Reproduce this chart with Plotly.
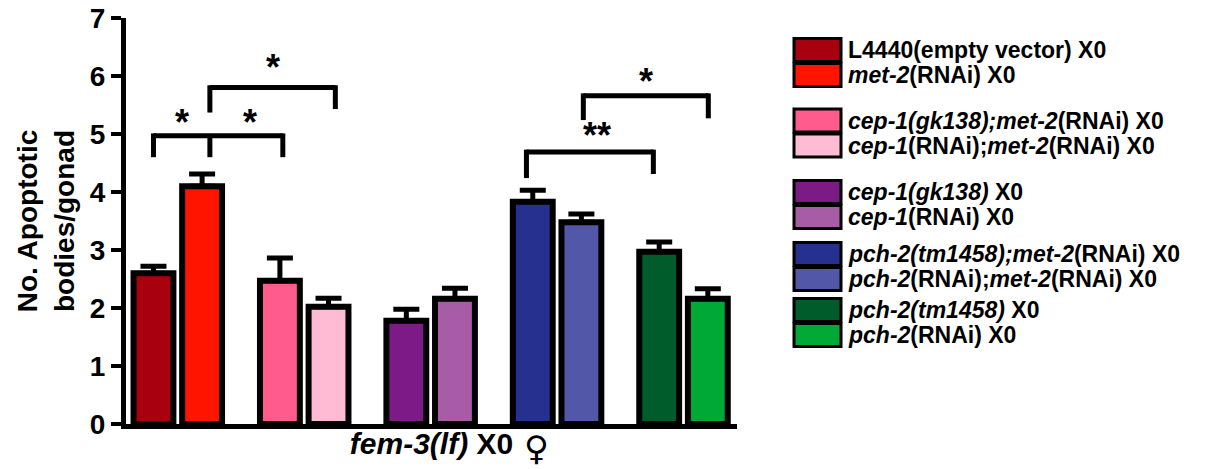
import plotly.graph_objects as go

# ---------------- data ----------------
labels = [
    "L4440(empty vector) X0",
    "<i>met-2</i>(RNAi) X0",
    "<i>cep-1(gk138);met-2</i>(RNAi) X0",
    "<i>cep-1</i>(RNAi);<i>met-2</i>(RNAi) X0",
    "<i>cep-1(gk138)</i> X0",
    "<i>cep-1</i>(RNAi) X0",
    "<i>pch-2(tm1458);met-2</i>(RNAi) X0",
    "<i>pch-2</i>(RNAi);<i>met-2</i>(RNAi) X0",
    "<i>pch-2(tm1458)</i> X0",
    "<i>pch-2</i>(RNAi) X0",
]
means = [2.60, 4.10, 2.47, 2.02, 1.78, 2.16, 3.83, 3.48, 2.97, 2.16]
sems = [0.12, 0.21, 0.39, 0.15, 0.20, 0.18, 0.20, 0.14, 0.17, 0.17]
colors = ["#A8000F", "#FF1400", "#FF5C8D", "#FFBAD4", "#7C1A86",
          "#A85CA6", "#26318F", "#5257A8", "#005C2A", "#00A835"]
y_ticks = [0, 1, 2, 3, 4, 5, 6, 7]
x_title = "<i>fem-3(lf)</i> X0"
x_title_symbol = "\u2640"
y_title = "No. Apoptotic<br>bodies/gonad"

# significance brackets: (x_left, x_right, y_top, y_left_end, y_right_end)
brackets = [
    (0.0, 2.66, 4.97, 4.60, 4.60),
    (1.16, 3.74, 5.80, 5.37, 5.43),
    (7.67, 10.28, 4.69, 4.24, 4.31),
    (8.84, 11.41, 5.66, 5.24, 5.27),
]
extra_ticks = [(1.16, 4.97, 4.60)]  # middle leg of first bracket
stars = [("*", 0.59, 5.2), ("*", 1.99, 5.2), ("*", 2.46, 6.14),
         ("**", 9.13, 4.97), ("*", 10.12, 5.9)]

# ---------------- layout helpers ----------------
FONT = "Liberation Sans, Arial, sans-serif"
W, H = 1217, 469
L, R, T, B = 126, 737, 18, 424

def pos(i):
    return (i // 2) * 2.6 + (i % 2)

xs = [pos(i) for i in range(len(means))]

fig = go.Figure()
for i in range(len(means)):
    fig.add_trace(go.Bar(
        x=[xs[i]], y=[means[i]], width=0.82,
        marker=dict(color=colors[i], line=dict(color="black", width=6)),
        error_y=dict(type="data", array=[sems[i]], arrayminus=[0], symmetric=False,
                     color="black", thickness=5, width=13),
        showlegend=False, name=labels[i],
    ))

shapes = []
for (x0, x1, yt, yl, yr) in brackets:
    shapes.append(dict(type="line", x0=x0, x1=x1, y0=yt, y1=yt, xref="x", yref="y",
                       line=dict(color="black", width=5)))
    shapes.append(dict(type="line", x0=x0, x1=x0, y0=yt + 0.04, y1=yl, xref="x", yref="y",
                       line=dict(color="black", width=5)))
    shapes.append(dict(type="line", x0=x1, x1=x1, y0=yt + 0.04, y1=yr, xref="x", yref="y",
                       line=dict(color="black", width=5)))
for (x0, y0, y1) in extra_ticks:
    shapes.append(dict(type="line", x0=x0, x1=x0, y0=y0, y1=y1, xref="x", yref="y",
                       line=dict(color="black", width=5)))

annotations = []
for (s, x, y) in stars:
    annotations.append(dict(text=s, x=x, y=y, xref="x", yref="y", showarrow=False,
                            font=dict(family=FONT, size=36, color="black", weight="bold"),
                            xanchor="center", yanchor="middle"))

# pixel -> paper coordinate helpers (for legend / decorations)
def px(p):
    return (p - L) / (R - L)

def py(p):
    return (B - p) / (B - T)

# female symbol after the x-axis title
annotations.append(dict(text=x_title_symbol, x=px(536), y=py(448), xref="paper", yref="paper",
                        showarrow=False, xanchor="center", yanchor="middle",
                        font=dict(family="DejaVu Sans", size=34, color="black", weight="bold")))

# manual legend
pair_centers = [62.5, 133, 204.5, 266.5, 322.5]
for i, lab in enumerate(labels):
    yc = pair_centers[i // 2] + (-12.5 if i % 2 == 0 else 12.5)
    shapes.append(dict(type="rect", xref="paper", yref="paper",
                       x0=px(794), x1=px(841), y0=py(yc - 11.5), y1=py(yc + 11.5),
                       fillcolor=colors[i], line=dict(color="black", width=3)))
    annotations.append(dict(text=lab, x=px(846), y=py(yc), xref="paper", yref="paper",
                            showarrow=False, xanchor="left", yanchor="middle",
                            font=dict(family=FONT, size=23, color="black", weight="bold")))

fig.update_layout(
    width=W, height=H,
    margin=dict(l=L, r=W - R, t=T, b=H - B),
    plot_bgcolor="white", paper_bgcolor="white",
    barmode="overlay",
    shapes=shapes, annotations=annotations,
    font=dict(family=FONT, color="black"),
    xaxis=dict(range=[-0.565, 12.0], showline=True, linewidth=5, linecolor="black",
               showticklabels=False, ticks="", showgrid=False, zeroline=False,
               automargin=False,
               title=dict(text=x_title, standoff=6,
                          font=dict(family=FONT, size=30, color="black", weight="bold"))),
    yaxis=dict(range=[0, 7], tickvals=y_ticks, showline=True, linewidth=5, linecolor="black",
               ticks="outside", ticklen=10, tickwidth=4, tickcolor="black",
               showgrid=False, zeroline=False, automargin=False,
               tickfont=dict(family=FONT, size=28, color="black", weight="bold"),
               title=dict(text=y_title, standoff=9,
                          font=dict(family=FONT, size=28, color="black", weight="bold"))),
)

fig.write_html("out.html", config={"displayModeBar": False},
               post_script="document.body.style.margin='0px';document.body.style.overflow='hidden';")
